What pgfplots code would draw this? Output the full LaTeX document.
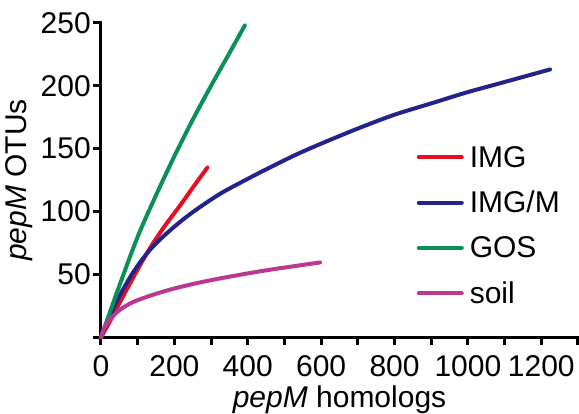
\documentclass[border=0pt]{standalone}
\usepackage{pgfplots}
\pgfplotsset{compat=1.18}
\usepackage{fontspec}
\setmainfont{Liberation Sans}

\definecolor{cimg}{RGB}{232,14,34}
\definecolor{cimgm}{RGB}{33,36,138}
\definecolor{cgos}{RGB}{10,144,86}
\definecolor{csoil}{RGB}{188,56,144}

\newcommand{\bigfont}{\fontsize{30}{36}\selectfont}

\begin{document}
\begin{tikzpicture}
\useasboundingbox (-101pt,-76.7pt) rectangle (478pt,337.3pt);
\begin{axis}[
  scale only axis, width=477pt, height=314.4pt,
  xmin=0, xmax=1300, ymin=0, ymax=250,
  axis lines*=left, clip=false,
  axis line style={line width=3pt, line cap=rect},
  tick style={line width=3pt, black},
  tick align=outside, major tick length=8pt,
  xtick={0,100,...,1300},
  xticklabels={0,,200,,400,,600,,800,,1000,,1200,},
  ytick={0,50,...,250},
  yticklabels={,50,100,150,200,250},
  /pgf/number format/assume math mode=true,
  tick label style={font=\bigfont},
  yticklabel style={inner sep=2pt},
  xticklabel style={inner sep=2pt, yshift=-8pt},
  label style={font=\bigfont},
  xlabel={\textit{pepM} homologs},
  xlabel style={inner sep=0pt, yshift=-7pt},
  ylabel={\textit{pepM} OTUs},
  ylabel style={yshift=2pt},
  every axis plot/.append style={line width=4pt, line cap=round, line join=round, smooth},
  legend cell align=left,
  legend image code/.code={\draw[#1] (0pt,0pt) -- (43pt,0pt);},
  legend style={at={(axis cs:860,156)}, anchor=north west, draw=none, fill=none,
    inner sep=0pt, font=\bigfont, row sep=13.3pt, column sep=4pt,
    nodes={text height=24pt, text depth=4pt, inner sep=2pt}},
]
\addplot[color=cimg] coordinates {(0,0) (25,13) (50,27) (100,54) (138,73) (175,89) (216,105) (255,121) (290,135)};
\addlegendentry{IMG}
\addplot[color=cimgm] coordinates {(0,0) (20,14) (40,27) (60,38) (84,50) (110,61) (135,70) (160,77.5) (200,88) (250,99.5) (324,114) (400,126) (460,135) (530,145) (600,154) (700,166) (800,177) (900,186) (1000,195) (1100,203) (1224,213)};
\addlegendentry{IMG/M}
\addplot[color=cgos] coordinates {(0,0) (25,20.5) (50,41) (100,80) (150,113) (200,144) (250,173) (300,200) (350,226) (392,248)};
\addlegendentry{GOS}
\addplot[color=csoil] coordinates {(0,0) (4,4) (10,8) (20,12.5) (35,17.5) (50,21.5) (75,26.2) (101,29.7) (150,34.6) (200,38.8) (260,43) (324,46.8) (400,50.8) (460,53.7) (530,56.7) (597,59.5)};
\addlegendentry{soil}
\end{axis}
\end{tikzpicture}
\end{document}
